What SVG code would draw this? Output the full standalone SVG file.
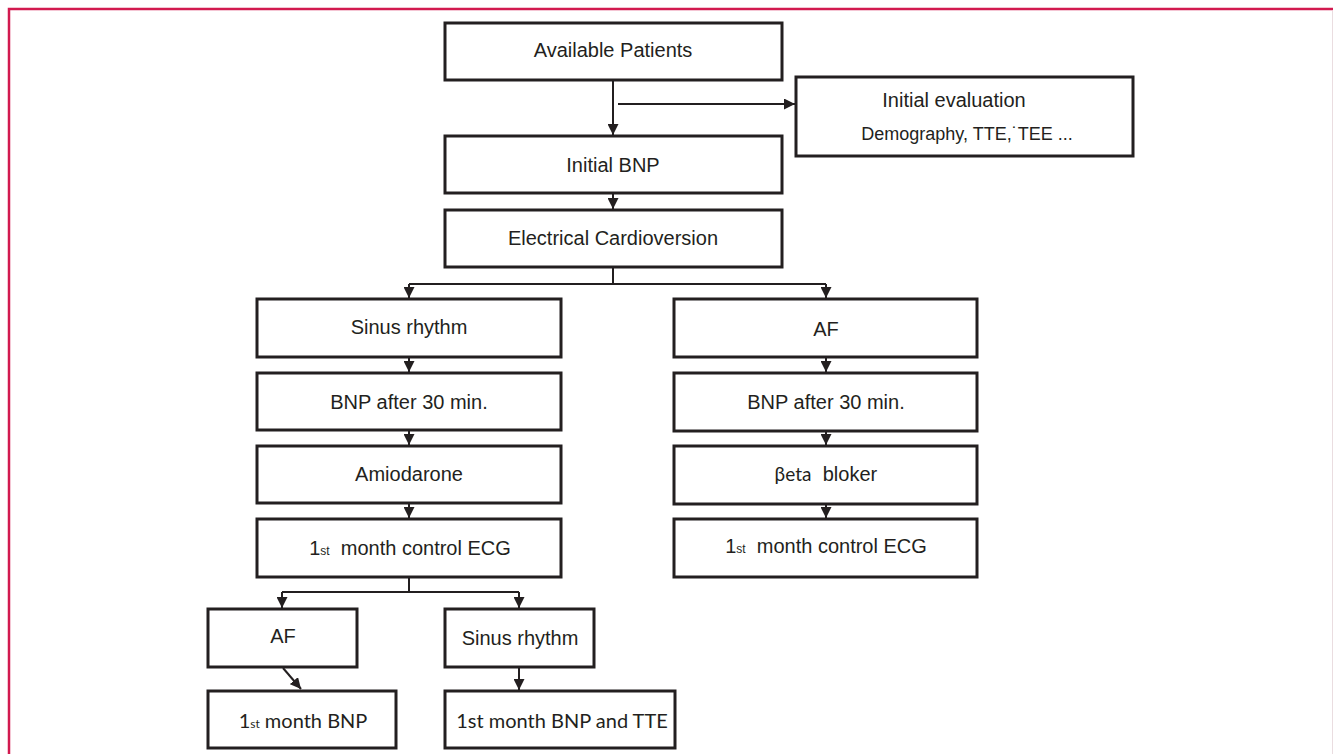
<svg xmlns="http://www.w3.org/2000/svg" width="1333" height="754" viewBox="0 0 1333 754">
<defs>
<marker id="ah" markerUnits="userSpaceOnUse" markerWidth="11" markerHeight="11" refX="10" refY="5" orient="auto" viewBox="0 0 10 10">
<path d="M0,0 L10,5 L0,10 z" fill="#231f20"/>
</marker>
<style>
.box{fill:#fff;stroke:#231f20;stroke-width:3}
.t{font-family:"Liberation Sans",Arial,sans-serif;font-size:20px;fill:#231f20;text-anchor:middle;white-space:pre}
.m{font-family:Lato,"Open Sans",sans-serif;font-size:20px;fill:#231f20;text-anchor:middle;white-space:pre}
.sub{font-size:12px}
.c{fill:none;stroke:#231f20;stroke-width:2}
.a{fill:none;stroke:#231f20;stroke-width:2;marker-end:url(#ah)}
</style>
</defs>
<rect x="0" y="0" width="1333" height="754" fill="#fff"/>
<path d="M9,754 V9 H1333" fill="none" stroke="#d21a4f" stroke-width="2.5"/>
<line x1="1332.5" y1="11" x2="1332.5" y2="754" stroke="#eadde0" stroke-width="1"/>

<g id="connectors">
<line class="a" x1="613" y1="80" x2="613" y2="135"/>
<line class="a" x1="618" y1="104" x2="795" y2="104"/>
<line class="a" x1="613" y1="193" x2="613" y2="209"/>
<path class="c" d="M613,267 V284 M409,284 H826"/>
<line class="a" x1="409" y1="284" x2="409" y2="298"/>
<line class="a" x1="826" y1="284" x2="826" y2="298"/>
<line class="a" x1="409" y1="357" x2="409" y2="372"/>
<line class="a" x1="409" y1="430" x2="409" y2="445"/>
<line class="a" x1="409" y1="503" x2="409" y2="518"/>
<line class="a" x1="826" y1="357" x2="826" y2="372"/>
<line class="a" x1="826" y1="431" x2="826" y2="445"/>
<line class="a" x1="826" y1="504" x2="826" y2="518"/>
<path class="c" d="M409,577 V592 M282,592 H519"/>
<line class="a" x1="282" y1="592" x2="282" y2="608"/>
<line class="a" x1="519" y1="592" x2="519" y2="608"/>
<line class="a" x1="283" y1="668" x2="301" y2="689"/>
<line class="a" x1="519" y1="667" x2="519" y2="690"/>
</g>

<g id="available-patients"><rect class="box" x="445" y="23" width="337" height="57"/><text class="t" x="613" y="57">Available Patients</text></g>
<g id="initial-evaluation"><rect class="box" x="796" y="77" width="337" height="79"/><text class="t" x="954" y="107">Initial evaluation</text><text class="t" x="967" y="140" style="font-size:18px">Demography, TTE,˙TEE ...</text></g>
<g id="initial-bnp"><rect class="box" x="445" y="136" width="337" height="57"/><text class="t" x="613" y="172">Initial BNP</text></g>
<g id="electrical-cardioversion"><rect class="box" x="445" y="210" width="337" height="57"/><text class="t" x="613" y="245">Electrical Cardioversion</text></g>

<g id="sinus-rhythm"><rect class="box" x="257" y="299" width="304" height="58"/><text class="t" x="409" y="334">Sinus rhythm</text></g>
<g id="bnp-30-left"><rect class="box" x="257" y="373" width="304" height="57"/><text class="t" x="409" y="409">BNP after 30 min.</text></g>
<g id="amiodarone"><rect class="box" x="257" y="446" width="304" height="57"/><text class="t" x="409" y="481">Amiodarone</text></g>
<g id="ecg-left"><rect class="box" x="257" y="519" width="304" height="58"/><text class="t" x="410" y="555">1<tspan class="sub">st</tspan>  month control ECG</text></g>

<g id="af-right"><rect class="box" x="674" y="299" width="303" height="58"/><text class="t" x="826" y="336">AF</text></g>
<g id="bnp-30-right"><rect class="box" x="674" y="373" width="303" height="58"/><text class="t" x="826" y="409">BNP after 30 min.</text></g>
<g id="beta-bloker"><rect class="box" x="674" y="446" width="303" height="58"/><text x="793" y="481" class="m" style="font-size:19px">βeta</text><text class="t" x="850" y="481">bloker</text></g>
<g id="ecg-right"><rect class="box" x="674" y="519" width="303" height="58"/><text class="t" x="826" y="553">1<tspan class="sub">st</tspan>  month control ECG</text></g>

<g id="af-bottom"><rect class="box" x="208" y="609" width="149" height="58"/><text class="t" x="283" y="643">AF</text></g>
<g id="sinus-bottom"><rect class="box" x="445" y="609" width="149" height="58"/><text class="t" x="520" y="645">Sinus rhythm</text></g>
<g id="bnp-1st-month"><rect class="box" x="208" y="691" width="188" height="57"/><text class="m" x="303" y="728">1<tspan class="sub">st</tspan> month BNP</text></g>
<g id="bnp-tte"><rect class="box" x="445" y="691" width="230" height="57"/><text class="m" x="562" y="728">1st month BNP and TTE</text></g>
</svg>
